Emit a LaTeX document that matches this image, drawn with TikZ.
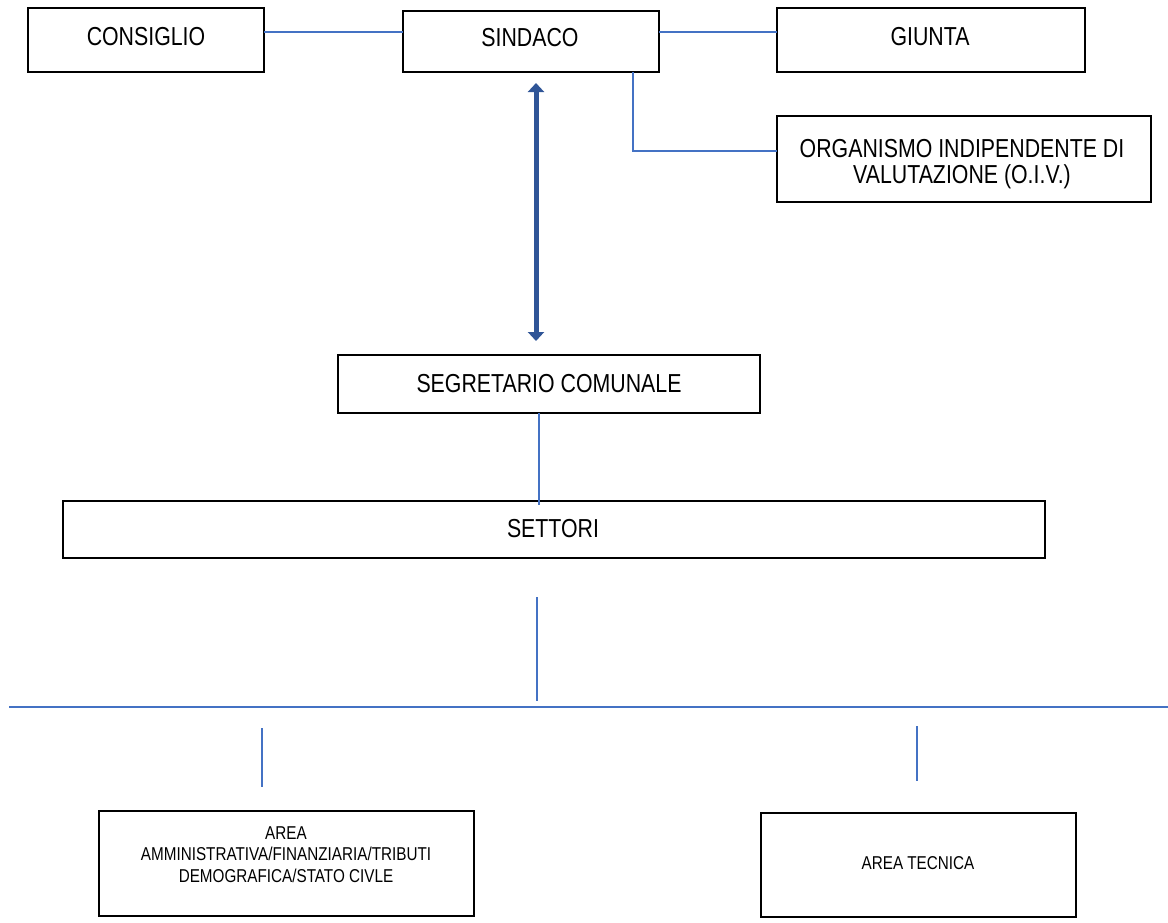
\documentclass[tikz,border=0pt]{standalone}
\usepackage{fontspec}
\setmainfont{Liberation Sans}[FakeStretch=0.82]
\usetikzlibrary{arrows.meta,calc}
\definecolor{lblue}{HTML}{4472C4}
\definecolor{dblue}{HTML}{2F5597}
\tikzset{
  box/.style={draw=black, line width=1.4pt, rectangle, inner sep=0pt, outer sep=0pt, anchor=north west},
  bigtxt/.style={font=\fontsize{26}{26}\selectfont, anchor=base, inner sep=0pt},
  smalltxt/.style={font=\fontsize{18.6}{21.5}\selectfont, anchor=base, inner sep=0pt},
  conn/.style={draw=lblue, line width=1.3pt},
  stub/.style={draw=lblue, line width=1.6pt},
  bus/.style={draw=lblue, line width=2pt},
  dblarrow/.style={draw=dblue, line width=5pt, {Triangle[width=16pt,length=9pt]}-{Triangle[width=16pt,length=9pt]}}
}
\begin{document}
\begin{tikzpicture}[x=1pt,y=-1pt]
\useasboundingbox (0,0) rectangle (1168,922);
% boxes
\node[box, minimum width=236, minimum height=64] (cons) at (28,8) {};
\node[box, minimum width=256, minimum height=61] (sind) at (403,11) {};
\node[box, minimum width=308, minimum height=64] (giun) at (777,8) {};
\node[box, minimum width=374, minimum height=86] (oiv) at (777,116) {};
\node[box, minimum width=422, minimum height=58] (segr) at (338,355) {};
\node[box, minimum width=982, minimum height=57] (sett) at (63,501) {};
\node[box, minimum width=375, minimum height=105] (amm) at (99,811) {};
\node[box, minimum width=315, minimum height=104] (tec) at (761,813) {};
% texts
\node[bigtxt] (cons-t) at (146,45) {CONSIGLIO};
\node[bigtxt] (sind-t) at (530,46) {SINDACO};
\node[bigtxt] (giun-t) at (930,45) {GIUNTA};
\node[bigtxt] (oiv-t) at (962,157) {\begin{tabular}[t]{@{}c@{}}ORGANISMO INDIPENDENTE DI\\VALUTAZIONE (O.I.V.)\end{tabular}};
\node[bigtxt] (segr-t) at (549,392) {SEGRETARIO COMUNALE};
\node[bigtxt] (sett-t) at (553,537) {SETTORI};
\node[smalltxt] (amm-t) at (286,839) {\begin{tabular}[t]{@{}c@{}}AREA\\AMMINISTRATIVA/FINANZIARIA/TRIBUTI\\DEMOGRAFICA/STATO CIVLE\end{tabular}};
\node[smalltxt] (tec-t) at (918,869) {AREA TECNICA};
% connectors
\draw[conn] ([yshift=8pt]cons.east) -- ([yshift=8pt]cons.east -| sind.west);
\draw[conn] ([yshift=8pt]giun.west -| sind.east) -- ([yshift=8pt]giun.west);
\draw[conn] ([xshift=-26pt]sind.south east) |- ([yshift=8pt]oiv.west);
\coordinate (sg) at (539,505);
\draw[conn] ([xshift=-10pt]segr.south) -- (sg);
% double arrow
\coordinate (a1) at (536,83);
\coordinate (a2) at (536,341);
\draw[dblarrow] (a1) -- (a2);
% lower lines
\coordinate (s1) at (537,597);
\coordinate (s2) at (537,701);
\draw[conn] (s1) -- (s2);
\coordinate (b1) at (9,707);
\coordinate (b2) at (1168,707);
\draw[bus] (b1) -- (b2);
\coordinate (l1) at (262,728);
\coordinate (l2) at (262,787);
\draw[stub] (l1) -- (l2);
\coordinate (r1) at (917,726);
\coordinate (r2) at (917,781);
\draw[stub] (r1) -- (r2);
\end{tikzpicture}
\end{document}
